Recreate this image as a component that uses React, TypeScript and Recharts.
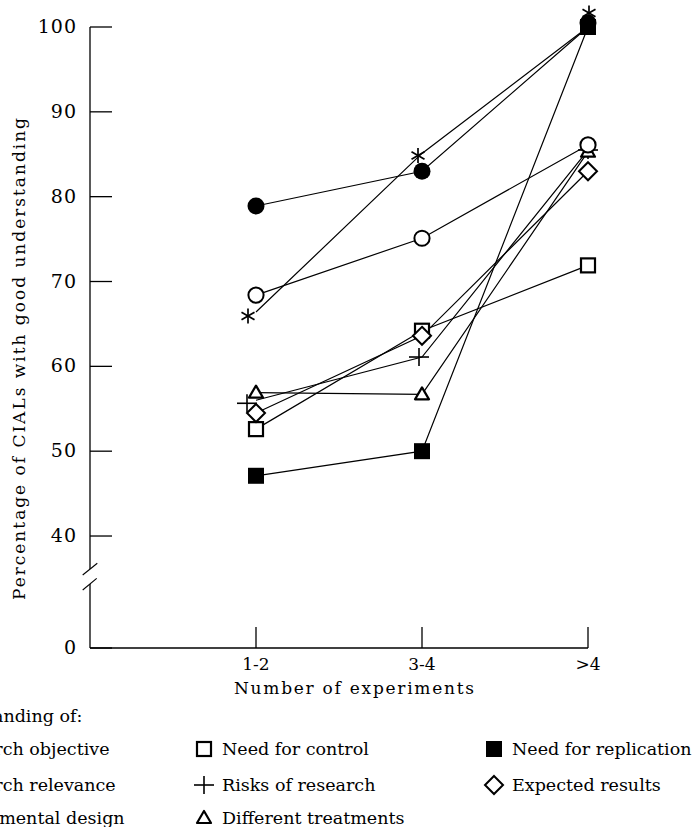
import React from 'react';
import { LineChart, Line, XAxis, YAxis } from 'recharts';

// ---- data ----
const categories = ['1-2', '3-4', '>4'];
const xPositions = [1, 2, 3];
const researchObjective = [78.9, 83.0, 100.0];
const researchRelevance = [68.4, 75.1, 86.1];
const experimentalDesign = [66.4, 85.1, 100.0];
const needForControl = [52.6, 64.2, 71.9];
const risksOfResearch = [56.0, 61.1, 85.5];
const differentTreatments = [56.9, 56.7, 85.3];
const needForReplication = [47.1, 50.0, 100.0];
const expectedResults = [54.5, 63.6, 83.0];
const yTickValues = [40, 50, 60, 70, 80, 90, 100];
const yAxisOrigin = 26.8; // broken axis: origin shown as "0"
const yOriginLabel = '0';
const legendTitle = 'Understanding of:';
const xTitle = 'Number of experiments';
const yTitle = 'Percentage of CIALs with good understanding';

type MarkerType = 'filledCircle' | 'openCircle' | 'asterisk' | 'openSquare' | 'plus' | 'triangle' | 'filledSquare' | 'diamond';

const series: { key: string; name: string; values: number[]; marker: MarkerType }[] = [
  { key: 'objective', name: 'Research objective', values: researchObjective, marker: 'filledCircle' },
  { key: 'relevance', name: 'Research relevance', values: researchRelevance, marker: 'openCircle' },
  { key: 'design', name: 'Experimental design', values: experimentalDesign, marker: 'asterisk' },
  { key: 'control', name: 'Need for control', values: needForControl, marker: 'openSquare' },
  { key: 'risks', name: 'Risks of research', values: risksOfResearch, marker: 'plus' },
  { key: 'treatments', name: 'Different treatments', values: differentTreatments, marker: 'triangle' },
  { key: 'replication', name: 'Need for replication', values: needForReplication, marker: 'filledSquare' },
  { key: 'expected', name: 'Expected results', values: expectedResults, marker: 'diamond' },
];

// drawing order (later on top)
const drawOrder = ['risks', 'treatments', 'control', 'expected', 'relevance', 'objective', 'replication', 'design'];

// small glyph displacements (px) so overlapping markers stay visible, as in the original print
const markerNudge: Record<string, Record<number, [number, number]>> = {
  design: { 0: [-8, 4], 1: [-4, 2], 2: [1, -14] },
  risks: { 0: [-9, 3], 1: [-3, 0] },
  objective: { 2: [0, -4] },
};

const data = categories.map((c, i) => {
  const row: Record<string, number | string> = { x: xPositions[i], cat: c };
  series.forEach((s) => { row[s.key] = s.values[i]; });
  return row;
});

const FONT = '"DejaVu Serif", serif';

function Marker({ type, cx, cy }: { type: MarkerType; cx: number; cy: number }) {
  switch (type) {
    case 'filledCircle':
      return <circle cx={cx} cy={cy} r={8.5} fill="#000" />;
    case 'openCircle':
      return <circle cx={cx} cy={cy} r={7.6} fill="#fff" stroke="#000" strokeWidth={2} />;
    case 'asterisk': {
      const r = 7.5;
      const a = r * Math.cos(Math.PI / 6);
      const b = r * Math.sin(Math.PI / 6);
      return (
        <g stroke="#000" strokeWidth={1.7}>
          <line x1={cx} y1={cy - r} x2={cx} y2={cy + r} />
          <line x1={cx - a} y1={cy - b} x2={cx + a} y2={cy + b} />
          <line x1={cx - a} y1={cy + b} x2={cx + a} y2={cy - b} />
        </g>
      );
    }
    case 'openSquare':
      return <rect x={cx - 7} y={cy - 7} width={14} height={14} fill="#fff" stroke="#000" strokeWidth={2.2} />;
    case 'filledSquare':
      return <rect x={cx - 8} y={cy - 8} width={16} height={16} fill="#000" />;
    case 'plus':
      return (
        <g stroke="#000" strokeWidth={1.6}>
          <line x1={cx - 10} y1={cy} x2={cx + 10} y2={cy} />
          <line x1={cx} y1={cy - 9} x2={cx} y2={cy + 9} />
        </g>
      );
    case 'triangle':
      return <polygon points={`${cx},${cy - 7} ${cx + 7},${cy + 5} ${cx - 7},${cy + 5}`} fill="#fff" stroke="#000" strokeWidth={2.2} strokeLinejoin="round" />;
    case 'diamond':
      return <polygon points={`${cx},${cy - 9} ${cx + 9},${cy} ${cx},${cy + 9} ${cx - 9},${cy}`} fill="#fff" stroke="#000" strokeWidth={2} />;
  }
  return null;
}

const YTick = (props: any) => {
  const { x, y, payload } = props;
  const isOrigin = payload.value === yAxisOrigin;
  return (
    <g>
      <line x1={x} y1={y} x2={x + 22} y2={y} stroke="#000" strokeWidth={1.3} />
      <text x={x - 13} y={y} dy={6} textAnchor="end" fontFamily={FONT} fontSize={19} letterSpacing={1} fill="#000">
        {isOrigin ? yOriginLabel : payload.value}
      </text>
      {isOrigin && (
        <g>
          <rect x={x - 3} y={y - 79} width={6} height={15} fill="#fff" />
          <line x1={x - 7.3} y1={y - 73} x2={x + 7.3} y2={y - 84.7} stroke="#000" strokeWidth={1.1} />
          <line x1={x - 7.3} y1={y - 58} x2={x + 6.7} y2={y - 69.7} stroke="#000" strokeWidth={1.1} />
        </g>
      )}
    </g>
  );
};

const XTick = (props: any) => {
  const { x, y, payload } = props;
  return (
    <g>
      <line x1={x} y1={y} x2={x} y2={y - 21} stroke="#000" strokeWidth={1.3} />
      <text x={x} y={y} dy={22} textAnchor="middle" fontFamily={FONT} fontSize={17} fill="#000">
        {categories[payload.value - 1]}
      </text>
    </g>
  );
};

const legendTextLeft = [-59, 222, 512];
const legendMarkerCenter = [-80, 204, 494];
const legendRows = [749, 785, 818];

const LegendBlock = () => (
  <div style={{ position: 'absolute', left: 0, top: 0, width: 699, height: 827, fontFamily: FONT, fontSize: 17.5, color: '#000', pointerEvents: 'none' }}>
    <div style={{ position: 'absolute', left: -79, top: 716 - 12, lineHeight: '24px', whiteSpace: 'nowrap' }}>{legendTitle}</div>
    {series.map((s, i) => {
      const col = Math.floor(i / 3);
      const row = i % 3;
      const top = legendRows[row];
      return (
        <React.Fragment key={s.key}>
          <svg width={24} height={24} style={{ position: 'absolute', left: legendMarkerCenter[col] - 12, top: top - 12, overflow: 'visible' }}>
            <Marker type={s.marker} cx={12} cy={12} />
          </svg>
          <div style={{ position: 'absolute', left: legendTextLeft[col], top: top - 12, lineHeight: '24px', whiteSpace: 'nowrap' }}>{s.name}</div>
        </React.Fragment>
      );
    })}
  </div>
);

export default function App() {
  const ordered = drawOrder.map((k) => series.find((s) => s.key === k)!);
  return (
    <div style={{ position: 'absolute', left: 0, top: 0, width: 699, height: 827, overflow: 'hidden', background: '#fff' }}>
      <LineChart width={699} height={827} data={data} margin={{ top: 27, right: 111, bottom: 149, left: 0 }}>
        <XAxis
          dataKey="x"
          type="number"
          domain={[0, 3]}
          ticks={xPositions}
          tick={<XTick />}
          tickSize={0}
          tickMargin={0}
          tickLine={false}
          height={30}
          axisLine={{ stroke: '#000', strokeWidth: 1.3 }}
        />
        <YAxis
          type="number"
          domain={[yAxisOrigin, 100]}
          ticks={[yAxisOrigin, ...yTickValues]}
          tick={<YTick />}
          tickSize={0}
          tickMargin={0}
          tickLine={false}
          width={90}
          axisLine={{ stroke: '#000', strokeWidth: 1.3 }}
          interval={0}
        />
        {ordered.map((s) => (
          <Line
            key={s.key}
            dataKey={s.key}
            name={s.name}
            type="linear"
            stroke="#000"
            strokeWidth={1.2}
            isAnimationActive={false}
            dot={(p: any) => {
              const n = (markerNudge[s.key] || {})[p.index] || [0, 0];
              return <Marker key={`${s.key}-${p.index}`} type={s.marker} cx={p.cx + n[0]} cy={p.cy + n[1]} />;
            }}
            activeDot={false}
          />
        ))}
      </LineChart>
      <svg width={699} height={827} style={{ position: 'absolute', left: 0, top: 0, pointerEvents: 'none' }}>
        <text x={354} y={694} textAnchor="middle" fontFamily={FONT} fontSize={17} textLength={240} lengthAdjust="spacing" fill="#000">{xTitle}</text>
        <text x={25} y={359} transform="rotate(-90 25 359)" textAnchor="middle" fontFamily={FONT} fontSize={17} textLength={482} lengthAdjust="spacing" fill="#000">{yTitle}</text>
      </svg>
      <LegendBlock />
    </div>
  );
}
